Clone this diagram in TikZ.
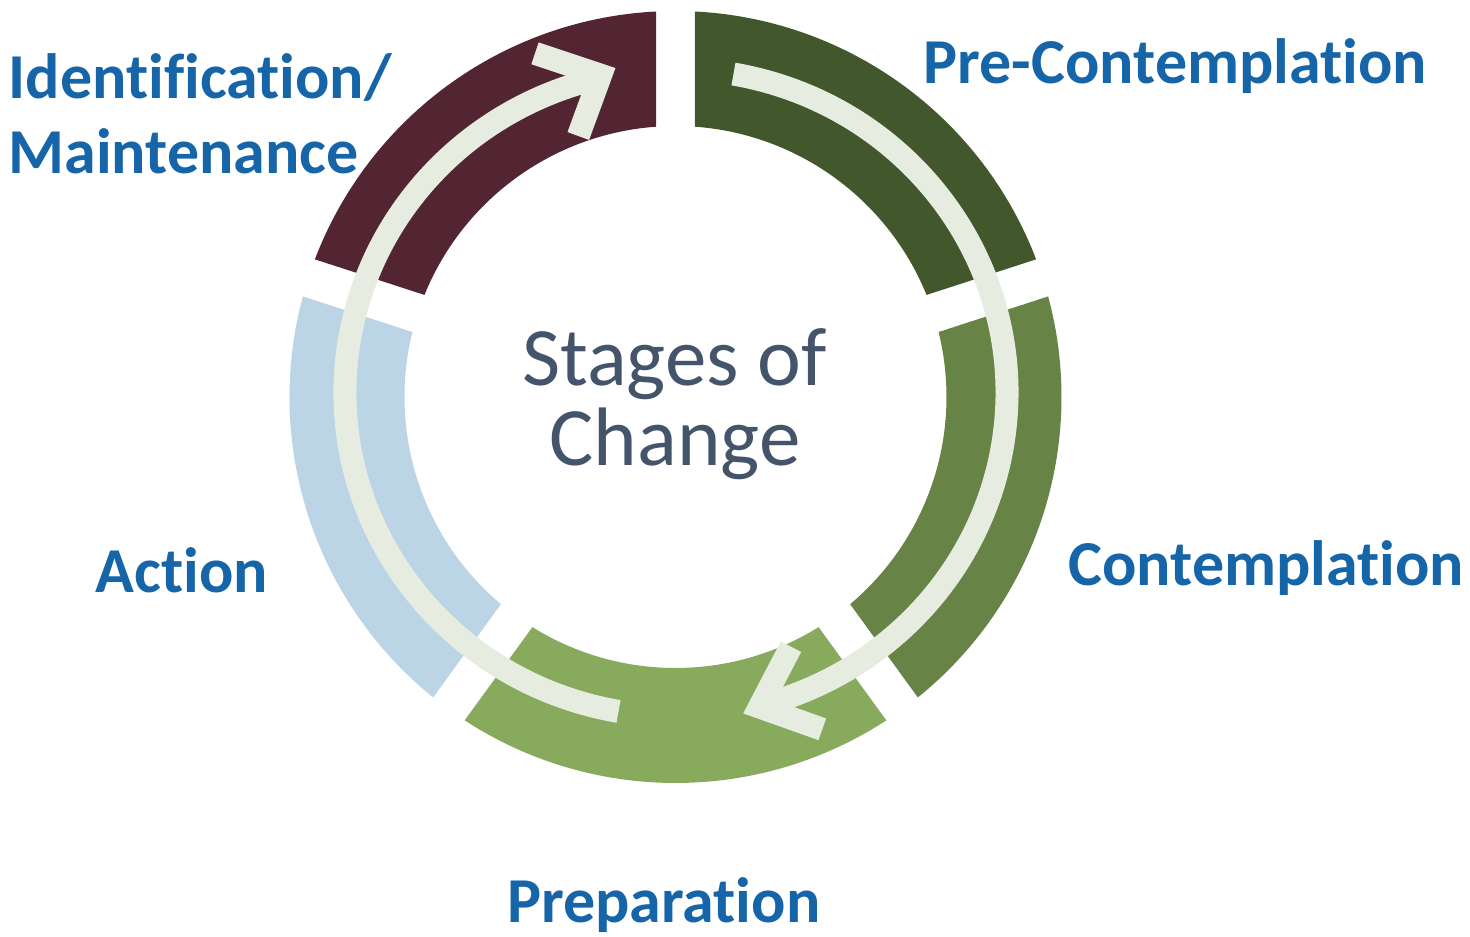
\documentclass[tikz,border=0pt]{standalone}
\usepackage{fontspec}
\setmainfont{Carlito}[Ligatures={NoCommon}]
\definecolor{identc}{HTML}{532533}
\definecolor{preconc}{HTML}{42572C}
\definecolor{contemc}{HTML}{678345}
\definecolor{prepc}{HTML}{87AA5D}
\definecolor{actionc}{HTML}{BBD4E6}
\definecolor{arrowc}{HTML}{E6EDE0}
\definecolor{labelblue}{HTML}{1565A8}
\definecolor{titlegray}{HTML}{44546A}
\tikzset{
  stagelabel/.style={inner sep=0pt, anchor=base west, text=labelblue,
    font=\bfseries\fontsize{64}{71}\selectfont},
  centretitle/.style={inner sep=0pt, anchor=base, text=titlegray,
    font=\fontsize{83}{80}\selectfont},
  cyclearrow/.style={draw=arrowc, line width=23pt, line cap=butt},
  chevron/.style={draw=arrowc, line width=23pt, line cap=butt,
    line join=miter, miter limit=10},
}
\begin{document}
\begin{tikzpicture}[x=1pt,y=1pt]
\useasboundingbox (-675.5,-540) rectangle (794.5,397);
% ring of five stage segments, separated by straight cuts of constant width
\def\Ro{386}
\def\Ri{271}
\def\gw{19.5}
\pgfmathsetmacro\da{asin(\gw/\Ro)}
\pgfmathsetmacro\db{asin(\gw/\Ri)}
\foreach \a/\b/\c in {18/90/preconc, -54/18/contemc, -126/-54/prepc,
                      162/234/actionc, 90/162/identc} {
  \fill[\c] ({\a+\da}:\Ro) arc[start angle={\a+\da}, end angle={\b-\da}, radius=\Ro]
    -- ({\b-\db}:\Ri) arc[start angle={\b-\db}, end angle={\a+\db}, radius=\Ri] -- cycle;
}
% two circular arrows running clockwise
\coordinate (tipA) at (84,-310);
\coordinate (armA1) at (115.5,-249.7);
\coordinate (armA2) at (146.8,-332.3);
\coordinate (tipB) at (-74.9,321.8);
\coordinate (armB1) at (-140.5,343.7);
\coordinate (armB2) at (-97.2,261);
\begin{scope}[shift={(0.5,4.25)}]
  \draw[cyclearrow] (80:331 and 323.6)
    arc[start angle=80, end angle=-75.6, x radius=331, y radius=323.6];
  \draw[cyclearrow] (260:331 and 323.6)
    arc[start angle=260, end angle=103.2, x radius=331, y radius=323.6];
\end{scope}
\draw[chevron] (armA1) -- (tipA) -- (armA2);
\draw[chevron] (armB1) -- (tipB) -- (armB2);
% centre title
\node[centretitle] (title1) at (-1,12) {Stages of};
\node[centretitle] (title2) at (-0.5,-68) {Change};
% stage labels
\node[stagelabel] (precon) at (248,313) {Pre-Contemplation};
\node[stagelabel] (contem) at (393,-188) {Contemplation};
\node[stagelabel] (prep) at (-168.5,-525) {Preparation};
\node[stagelabel] (action) at (-580,-195) {Action};
\node[stagelabel] (ident1) at (-667,298) {Identification/};
\node[stagelabel] (ident2) at (-667,223) {Maintenance};
\end{tikzpicture}
\end{document}
